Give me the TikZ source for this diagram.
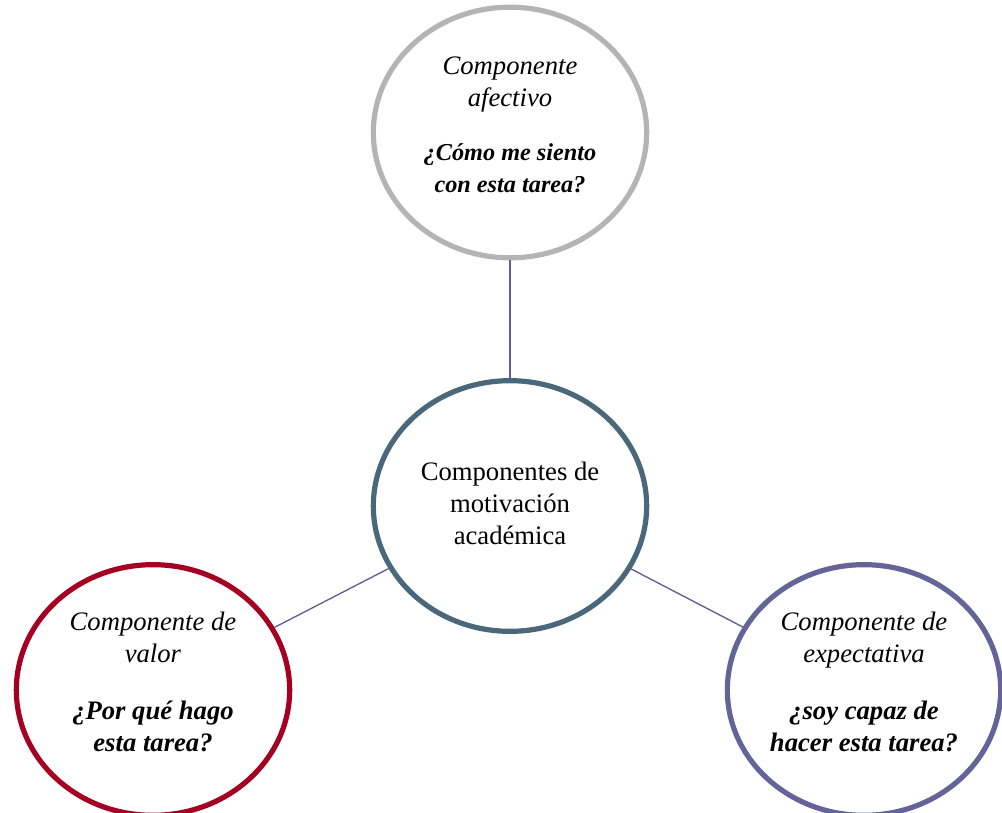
\documentclass[tikz,border=0pt]{standalone}
\usepackage{fontspec}
\setmainfont{Liberation Serif}
\usetikzlibrary{shapes.geometric}
\definecolor{cgray}{RGB}{180,180,180}
\definecolor{cteal}{RGB}{74,104,122}
\definecolor{cred}{RGB}{165,0,33}
\definecolor{cpurple}{RGB}{100,100,152}
\definecolor{cline}{RGB}{100,90,150}
\tikzset{
  bubble/.style={ellipse, draw=#1, line width=3.9pt, fill=white, inner sep=0pt,
    minimum width=205pt, minimum height=188pt},
  label/.style={align=center, font=\fontsize{20}{24}\selectfont, inner sep=0pt},
  link/.style={draw=cline, line width=1pt}
}
\begin{document}
\begin{tikzpicture}[x=0.75pt, y=-0.75pt]
\useasboundingbox (0,0) rectangle (1002,813);
\node[bubble=cgray] (top) at (510,132.5) {};
\node[bubble=cteal] (mid) at (510,506) {};
\node[bubble=cred] (left) at (153,690) {};
\node[bubble=cpurple] (right) at (864,690) {};
\draw[link] (top) -- (mid);
\draw[link] (left) -- (mid);
\draw[link] (right) -- (mid);
\node[label] (ttop) at (510,125) {\textit{Componente}\\\textit{afectivo}\\[16.5pt]{\fontsize{18.2}{23.5}\selectfont\textbf{\textit{¿Cómo me siento}}}\\{\fontsize{18.2}{23.5}\selectfont\textbf{\textit{con esta tarea?}}}};
\node[label] (tmid) at (510,503) {Componentes de\\motivación\\académica};
\node[label] (tleft) at (153,682) {\textit{Componente de}\\\textit{valor}\\[19pt]\textbf{\textit{¿Por qué hago}}\\\textbf{\textit{esta tarea?}}};
\node[label] (tright) at (864,682) {\textit{Componente de}\\\textit{expectativa}\\[19pt]\textbf{\textit{¿soy capaz de}}\\\textbf{\textit{hacer esta tarea?}}};
\end{tikzpicture}
\end{document}
